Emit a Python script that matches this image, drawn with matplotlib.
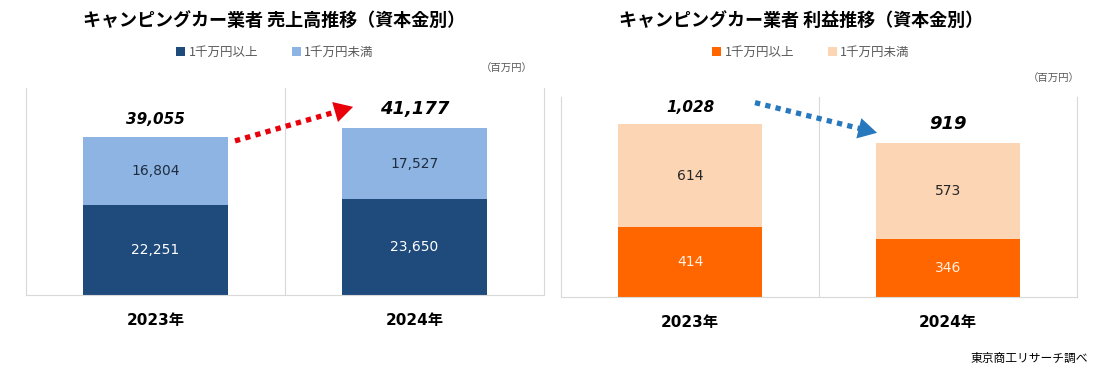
import matplotlib
matplotlib.use('Agg')
import matplotlib.pyplot as plt
import numpy as np

plt.rcParams['font.family'] = ['Noto Sans CJK JP', 'DejaVu Sans']

# Data
years = ['2023年', '2024年']
series_names = ['1千万円以上', '1千万円未満']

sales_large = [22251, 23650]
sales_small = [16804, 17527]

profit_large = [414, 346]
profit_small = [614, 573]

#########################################################################################

fig = plt.figure(figsize=(11.01, 3.79), dpi=100)


def draw_panel(rect, large, small, colors, text_colors, ymax, arrow_color, arrow_start, arrow_tip):
    ax = fig.add_axes(rect)
    x = np.arange(len(years))
    totals = np.array(large) + np.array(small)

    b1 = ax.bar(x, large, width=0.56, color=colors[0], label=series_names[0])
    b2 = ax.bar(x, small, width=0.56, bottom=large, color=colors[1], label=series_names[1])

    # values inside bars
    ax.bar_label(b1, labels=[f'{v:,}' for v in large], label_type='center',
                 color=text_colors[0], fontsize=10, family='DejaVu Sans')
    ax.bar_label(b2, labels=[f'{v:,}' for v in small], label_type='center',
                 color=text_colors[1], fontsize=10, family='DejaVu Sans')

    # totals
    tot_texts = ax.bar_label(b2, labels=[f'{v:,}' for v in totals], padding=7,
                             fontsize=11, fontweight='bold', fontstyle='italic',
                             family='DejaVu Sans', color='black')
    tot_texts[1].set_fontsize(13)

    ax.set_xlim(-0.5, 1.5)
    ax.set_ylim(0, ymax)
    ax.set_xticks(x)
    ax.set_xticklabels(years, fontsize=11, fontweight='bold',
                       family=['DejaVu Sans', 'Noto Sans CJK JP'])
    ax.tick_params(axis='x', length=0, pad=13)
    ax.set_yticks([])
    ax.axvline(x.mean(), color='#D9D9D9', lw=0.8, zorder=0)
    for side in ['left', 'right', 'bottom']:
        ax.spines[side].set_color('#D9D9D9')
        ax.spines[side].set_linewidth(0.8)
    ax.spines['top'].set_visible(False)

    # trend arrow: dotted shaft + solid head
    start = (x[0] + arrow_start[0], totals[0] * arrow_start[1])
    tip = (x[1] + arrow_tip[0], totals[1] * arrow_tip[1])
    mid = (start[0] + 0.86 * (tip[0] - start[0]), start[1] + 0.86 * (tip[1] - start[1]))
    ax.annotate('', xy=mid, xytext=start,
                arrowprops=dict(arrowstyle='-', lw=3.8, linestyle=(0, (1, 1)), capstyle='butt',
                                color=arrow_color, shrinkA=0, shrinkB=0))
    ax.annotate('', xy=tip, xytext=mid,
                arrowprops=dict(arrowstyle='-|>,head_length=0.9,head_width=0.5', lw=0,
                                color=arrow_color, mutation_scale=15, shrinkA=0, shrinkB=0))
    return ax, b1, b2


# Left panel - sales
ax1, l1, l2 = draw_panel([26 / 1101, 84 / 379, 518 / 1101, 207 / 379],
                         sales_large, sales_small, ['#1F4A7C', '#8DB4E2'],
                         ['white', '#1F2D40'], 51100, '#E8000B',
                         (0.307, 0.974), (-0.237, 1.128))

# Right panel - profit
ax2, r1, r2 = draw_panel([561 / 1101, 82 / 379, 516 / 1101, 200 / 379],
                         profit_large, profit_small, ['#FF6600', '#FCD5B5'],
                         ['#FFF0E0', '#262626'], 1190, '#2878BE',
                         (0.252, 1.125), (-0.275, 1.063))

# Titles
fig.text(274 / 1101, 1 - 20 / 379, 'キャンピングカー業者 売上高推移（資本金別）',
         ha='center', va='center', fontsize=13, fontweight='bold')
fig.text(801 / 1101, 1 - 20 / 379, 'キャンピングカー業者 利益推移（資本金別）',
         ha='center', va='center', fontsize=13, fontweight='bold')

# Legends
fig.legend(handles=[l1, l2], labels=series_names, loc='center',
           bbox_to_anchor=(275 / 1101, 1 - 52 / 379), ncol=2, frameon=False,
           fontsize=9, handlelength=0.7, handleheight=0.7, handletextpad=0.3,
           columnspacing=2.7, labelcolor='#595959')
fig.legend(handles=[r1, r2], labels=series_names, loc='center',
           bbox_to_anchor=(811 / 1101, 1 - 52 / 379), ncol=2, frameon=False,
           fontsize=9, handlelength=0.7, handleheight=0.7, handletextpad=0.3,
           columnspacing=2.7, labelcolor='#595959')

# Units
fig.text(533 / 1101, 1 - 69 / 379, '（百万円）', ha='right', va='center',
         fontsize=7.5, color='#595959')
fig.text(1080 / 1101, 1 - 79 / 379, '（百万円）', ha='right', va='center',
         fontsize=7.5, color='#595959')

# Source
fig.text(1088 / 1101, 1 - 358 / 379, '東京商工リサーチ調べ', ha='right', va='center',
         fontsize=8.5, color='black')

plt.savefig('out.png', dpi=100)
plt.close()
